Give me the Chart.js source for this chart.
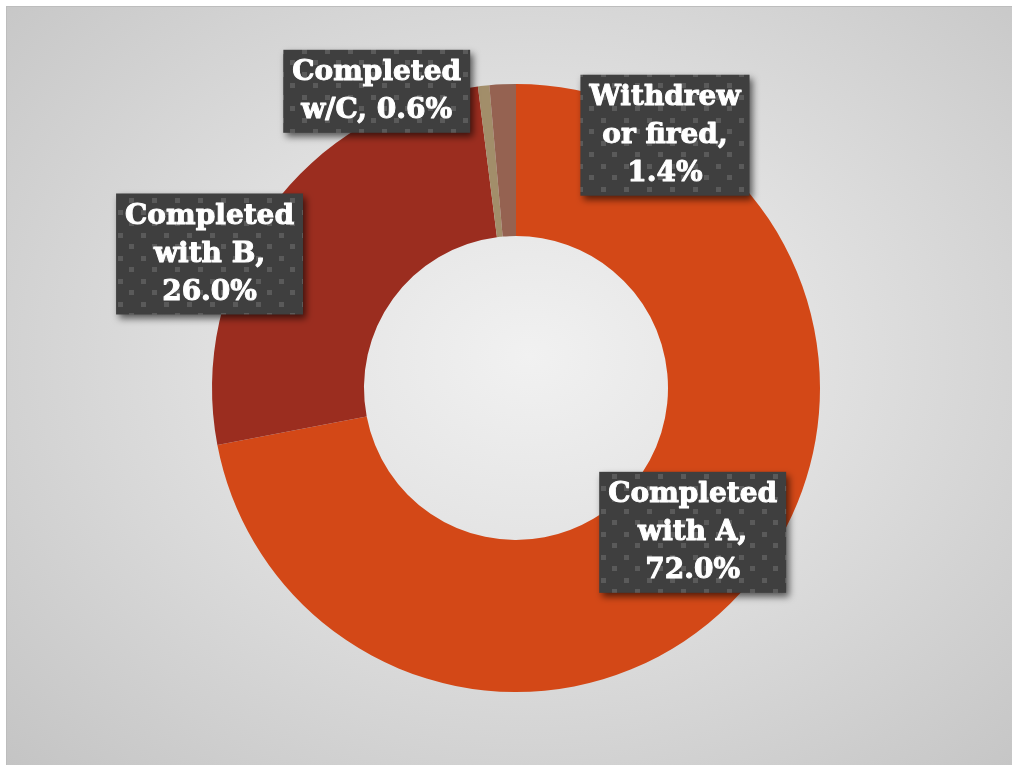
<!DOCTYPE html>
<html>
<head>
<meta charset="utf-8">
<script src="https://cdn.jsdelivr.net/npm/chart.js@4"></script>
<style>
  html, body { margin: 0; padding: 0; background: #fff; }
  #frame {
    position: absolute; left: 6px; top: 6px; width: 1006px; height: 759px;
    border-left: 1px solid #bdbdbd; border-top: 1px solid #bdbdbd;
    background: radial-gradient(ellipse farthest-corner at 52% 46%, #f1f1f1 0%, #e3e3e3 35%, #c4c4c4 100%);
  }
  #wrap { position: absolute; left: 0; top: 0; width: 1012px; height: 765px; }
</style>
</head>
<body>
<div id="frame"></div>
<div id="wrap"><canvas id="outcomeChart" width="1012" height="765"></canvas></div>
<script>
const categories = ["Completed with A", "Completed with B", "Completed w/C", "Withdrew or fired"];
const shares = [72.0, 26.0, 0.6, 1.4];
const sliceColors = ["#D34817", "#9B2D1F", "#A28E6A", "#956251"];
// where each callout sits relative to its slice centre
const labelShift = [[1, -1], [-122, 0], [-115, -70], [159, -25]];

function makeDotPattern(ctx) {
  const tile = document.createElement("canvas");
  tile.width = 23;
  tile.height = 23;
  const t = tile.getContext("2d");
  t.fillStyle = "#3f3f3f";
  t.fillRect(0, 0, 23, 23);
  t.fillStyle = "#5a5a5a";
  t.fillRect(3, 3, 5, 5);
  t.fillRect(14, 14, 5, 5);
  return ctx.createPattern(tile, "repeat");
}

function wrapWords(ctx, text, maxWidth) {
  const words = text.split(" ");
  const lines = [];
  let line = "";
  words.forEach((w) => {
    const test = line ? line + " " + w : w;
    if (line && ctx.measureText(test).width > maxWidth) {
      lines.push(line);
      line = w;
    } else {
      line = test;
    }
  });
  if (line) lines.push(line);
  return lines;
}

const calloutPlugin = {
  id: "callouts",
  afterDatasetsDraw(chart) {
    const ctx = chart.ctx;
    const meta = chart.getDatasetMeta(0);
    const pattern = makeDotPattern(ctx);
    const lineH = 38;
    ctx.save();
    ctx.font = "bold 28px 'DejaVu Serif'";
    meta.data.forEach((arc, i) => {
      const pos = arc.tooltipPosition();
      const cx = pos.x + labelShift[i][0];
      const cy = pos.y + labelShift[i][1];
      const text = categories[i] + ", " + shares[i].toFixed(1) + "%";
      const lines = wrapWords(ctx, text, 185);
      const tw = Math.max(...lines.map((l) => ctx.measureText(l).width));
      const w = tw + 18;
      const h = lines.length * lineH + 7;
      const x = cx - w / 2;
      const y = cy - h / 2;

      ctx.save();
      ctx.shadowColor = "rgba(0,0,0,0.6)";
      ctx.shadowBlur = 7;
      ctx.shadowOffsetX = 3;
      ctx.shadowOffsetY = 4;
      ctx.fillStyle = pattern;
      ctx.fillRect(x, y, w, h);
      ctx.restore();

      ctx.fillStyle = "#ffffff";
      ctx.strokeStyle = "#ffffff";
      ctx.lineWidth = 1;
      ctx.lineJoin = "round";
      ctx.textAlign = "center";
      ctx.textBaseline = "middle";
      lines.forEach((l, k) => {
        const ly = y + 4 + lineH * (k + 0.5);
        ctx.strokeText(l, cx, ly);
        ctx.fillText(l, cx, ly);
      });
    });
    ctx.restore();
  },
};

new Chart(document.getElementById("outcomeChart").getContext("2d"), {
  type: "doughnut",
  data: {
    labels: categories,
    datasets: [
      {
        data: shares,
        backgroundColor: sliceColors,
        borderWidth: 0,
        hoverOffset: 0,
      },
    ],
  },
  options: {
    responsive: false,
    animation: false,
    cutout: "50%",
    layout: {
      padding: { left: 212, right: 192, top: 84, bottom: 73 },
    },
    plugins: {
      legend: { display: false },
      tooltip: { enabled: false },
    },
  },
  plugins: [calloutPlugin],
});
</script>
</body>
</html>
